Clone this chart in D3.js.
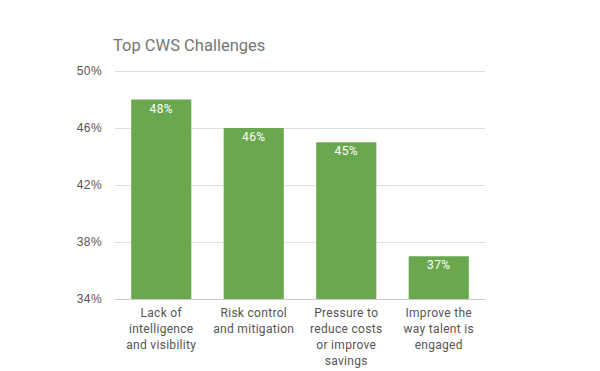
<!DOCTYPE html>
<html><head><meta charset="utf-8">
<script src="https://cdn.jsdelivr.net/npm/d3@7"></script>
<style>body{margin:0;background:#fff;}svg{display:block;font-family:Roboto,Arial,sans-serif;}</style>
</head><body>
<svg id="c" width="600" height="371"></svg>
<script>
const categories = [["Lack of","intelligence","and visibility"],["Risk control","and mitigation"],["Pressure to","reduce costs","or improve","savings"],["Improve the","way talent is","engaged"]];
const values = [48, 46, 45, 37];
const valueLabels = ["48%","46%","45%","37%"];
const yTicks = [34, 38, 42, 46, 50];
const title = "Top CWS Challenges";

const svg = d3.select("#c");
const x = d3.scaleBand().domain(d3.range(values.length)).range([115, 485]).paddingInner(0.35).paddingOuter(0.175);
const y = d3.scaleLinear().domain([34, 50]).range([299, 71]);

svg.append("text").attr("x", 113).attr("y", 51).attr("font-size", 16.5).attr("fill", "#757575").text(title);

const yAxis = d3.axisLeft(y).tickValues(yTicks).tickSize(-370).tickFormat(d => d + "%");
const ga = svg.append("g").attr("transform", "translate(115,0)").call(yAxis);
ga.select(".domain").remove();
ga.selectAll(".tick line").attr("stroke", "#e0e0e0").attr("x1", 0).attr("x2", 370);
ga.selectAll(".tick text").attr("x", -13).attr("font-size", 12).attr("fill", "#555").attr("font-family", "inherit").attr("letter-spacing", 0.4);

svg.selectAll("rect.bar").data(values).join("rect").attr("class","bar")
  .attr("x", (d,i) => x(i)).attr("width", x.bandwidth())
  .attr("y", d => y(d)).attr("height", d => y(34) - y(d)).attr("fill", "#6aa84f");

svg.selectAll("text.val").data(values).join("text").attr("class","val")
  .attr("x", (d,i) => x(i) + x.bandwidth()/2).attr("y", d => y(d) + 13)
  .attr("text-anchor","middle").attr("font-size", 12).attr("fill","#fff").attr("letter-spacing", 0.4)
  .text((d,i) => valueLabels[i]);

const gx = svg.append("g").attr("transform","translate(0,299)").call(d3.axisBottom(x).tickSize(0).tickFormat(""));
gx.select(".domain").attr("stroke","#ccc");
categories.forEach((lines,i) => {
  const t = svg.append("text").attr("text-anchor","middle").attr("font-size",12).attr("fill","#555").attr("letter-spacing", 0.3);
  lines.forEach((l,j) => t.append("tspan").attr("x", x(i)+x.bandwidth()/2).attr("y", 317 + j*16).text(l));
});
</script>
</body></html>
